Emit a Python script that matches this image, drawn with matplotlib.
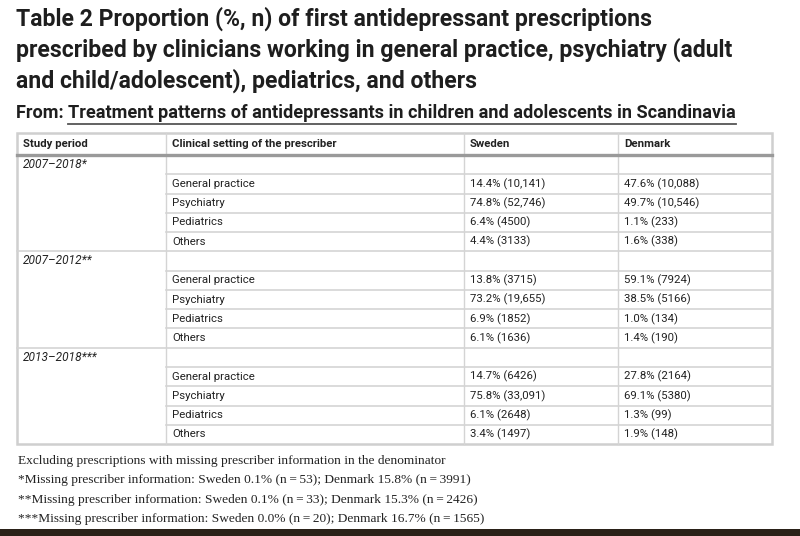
import matplotlib.pyplot as plt
from matplotlib.patches import Rectangle

title_lines = [
    "Table 2 Proportion (%, n) of first antidepressant prescriptions",
    "prescribed by clinicians working in general practice, psychiatry (adult",
    "and child/adolescent), pediatrics, and others",
]
source_prefix = "From: "
source_link = "Treatment patterns of antidepressants in children and adolescents in Scandinavia"

header = ["Study period", "Clinical setting of the prescriber", "Sweden", "Denmark"]
periods = ["2007\u20132018*", "2007\u20132012**", "2013\u20132018***"]
settings = ["General practice", "Psychiatry", "Pediatrics", "Others"]
sweden = [
    ["14.4% (10,141)", "74.8% (52,746)", "6.4% (4500)", "4.4% (3133)"],
    ["13.8% (3715)", "73.2% (19,655)", "6.9% (1852)", "6.1% (1636)"],
    ["14.7% (6426)", "75.8% (33,091)", "6.1% (2648)", "3.4% (1497)"],
]
denmark = [
    ["47.6% (10,088)", "49.7% (10,546)", "1.1% (233)", "1.6% (338)"],
    ["59.1% (7924)", "38.5% (5166)", "1.0% (134)", "1.4% (190)"],
    ["27.8% (2164)", "69.1% (5380)", "1.3% (99)", "1.9% (148)"],
]
footnotes = [
    "Excluding prescriptions with missing prescriber information in the denominator",
    "*Missing prescriber information: Sweden 0.1% (n\u2009=\u200953); Denmark 15.8% (n\u2009=\u20093991)",
    "**Missing prescriber information: Sweden 0.1% (n\u2009=\u200933); Denmark 15.3% (n\u2009=\u20092426)",
    "***Missing prescriber information: Sweden 0.0% (n\u2009=\u200920); Denmark 16.7% (n\u2009=\u20091565)",
]

fig = plt.figure(figsize=(8, 5.36), dpi=100)
ax = fig.add_axes([0, 0, 1, 1])
ax.set_xlim(0, 800)
ax.set_ylim(536, 0)
ax.axis("off")

sans = "Roboto"
serif = "Liberation Serif"

# title
for i, line in enumerate(title_lines):
    ax.text(16, 19 + i * 31, line, fontsize=16.6, fontweight="bold", family=sans,
            va="center", ha="left", color="#1e1e1e")
t1 = ax.text(16, 113, source_prefix, fontsize=13.1, fontweight="bold", family=sans,
             va="center", ha="left", color="#1e1e1e")
fig.canvas.draw()
bb = t1.get_window_extent()
x0 = bb.x1
t2 = ax.text(x0, 113, source_link, fontsize=13.1, fontweight="bold", family=sans,
             va="center", ha="left", color="#1e1e1e")
fig.canvas.draw()
bb2 = t2.get_window_extent()
ax.plot([bb2.x0, bb2.x1], [123.5, 123.5], color="#555555", lw=1.3)

# table geometry
cols = [17, 166, 464, 618, 772]
top = 132.5
head_bot = 155
row_h = 19.27
rows = []
for p in range(len(periods)):
    rows.append([periods[p], "", "", ""])
    for s in range(len(settings)):
        rows.append(["", settings[s], sweden[p][s], denmark[p][s]])
bottom = head_bot + row_h * len(rows)

line_c = "#d4d4d4"
# horizontal row lines
for r in range(1, len(rows)):
    y = head_bot + r * row_h
    if rows[r][0]:
        ax.plot([cols[0], cols[-1]], [y, y], color=line_c, lw=1.2)
    else:
        ax.plot([cols[1], cols[-1]], [y, y], color=line_c, lw=1.2)
# vertical inner lines
for c in cols[1:-1]:
    ax.plot([c, c], [top, bottom], color=line_c, lw=1.0)
# outer border
ax.add_patch(Rectangle((cols[0], top), cols[-1] - cols[0], bottom - top,
                       fill=False, edgecolor="#cfcfcf", lw=1.8))
# thick header line
ax.plot([cols[0], cols[-1]], [head_bot, head_bot], color="#9a9a9a", lw=2.4)

for j, h in enumerate(header):
    ax.text(cols[j] + 6, (top + head_bot) / 2, h, fontsize=8.2, fontweight="bold",
            family=sans, va="center", ha="left", color="#222222")

for r, row in enumerate(rows):
    yc = head_bot + (r + 0.5) * row_h
    for j, val in enumerate(row):
        if not val:
            continue
        style = "italic" if j == 0 else "normal"
        size = 8.6 if j == 0 else 8.2
        ax.text(cols[j] + 6, yc, val, fontsize=size, style=style, family=sans,
                va="center", ha="left", color="#222222")

for i, f in enumerate(footnotes):
    ax.text(18, 461 + i * 19.4, f, fontsize=9.6, family=[serif, "DejaVu Serif"],
            va="center", ha="left", color="#222222")

# dark photo edge at the bottom
ax.add_patch(Rectangle((0, 529), 800, 7, color="#2a2118", lw=0))

fig.savefig("out.png", dpi=100)
